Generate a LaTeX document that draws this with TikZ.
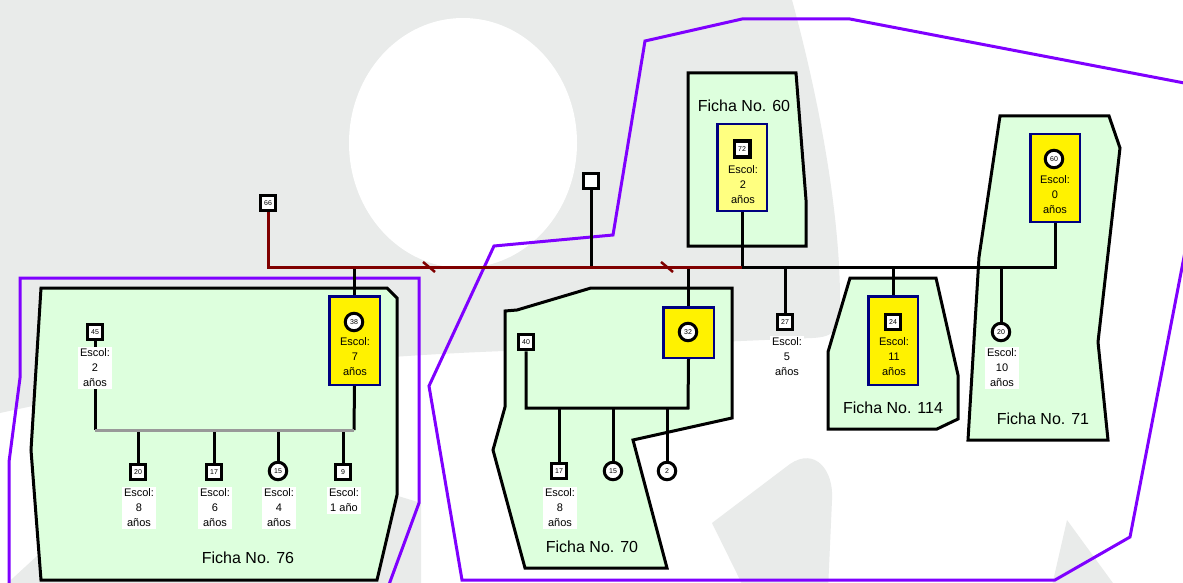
\documentclass[tikz,border=0pt]{standalone}
\usepackage{fontspec}
\setmainfont{Liberation Sans}
\usepackage{tikz}

\definecolor{fondo}{HTML}{E9EBEA}
\definecolor{verdeficha}{HTML}{DDFFDD}
\definecolor{morado}{HTML}{7F00FF}
\definecolor{vinotinto}{HTML}{800000}
\definecolor{marino}{HTML}{000080}
\definecolor{amarillopal}{HTML}{FFFF80}
\definecolor{grishijos}{HTML}{999999}

\tikzset{
    ficha/.style={draw=black, fill=verdeficha, line width=3pt},
    hogar/.style={draw=morado, line width=3pt},
    hombre/.style={draw, rectangle, line width=3pt, fill=white, minimum size=15.5pt, inner sep=0pt, font=\fontsize{7}{8}\selectfont},
    mujer/.style={draw, circle, line width=3pt, fill=white, minimum size=17.5pt, inner sep=0pt, font=\fontsize{7}{8}\selectfont},
    caja/.style={draw=marino, line width=2.5pt, fill=yellow, inner sep=0pt},
    escol/.style={align=center, font=\fontsize{11}{15}\selectfont, inner sep=2pt},
    escolb/.style={escol, fill=white},
    titulo/.style={font=\fontsize{16}{18}\selectfont},
    enlace/.style={line width=3pt},
    union/.style={draw=vinotinto, line width=3pt},
    hijos/.style={draw=grishijos, line width=3pt}
}

\begin{document}
\begin{tikzpicture}[x=1pt, y=-1pt]
    \useasboundingbox (0,0) rectangle (1183,583);
    \clip (0,0) rectangle (1183,583);
    % fondo
    \fill[white] (0,0) rectangle (1183,583);
    \fill[fondo] (0,0) -- (792,0) .. controls (822,110) and (840,220) .. (840,300) .. controls (840,330) and (835,337) .. (812,338) -- (480,352) .. controls (300,360) and (150,380) .. (0,413) -- cycle;
    \fill[white] (463,143) ellipse [x radius=114, y radius=125];
    \fill[fondo] (0,590) -- (37,556) .. controls (120,515) and (250,497) .. (398,496) -- (421,503) -- (421,590) -- cycle;
    \fill[fondo] (745,590) -- (712,523) -- (790,464) .. controls (815,447) and (834,470) .. (832,500) -- (828,590) -- cycle;
    \fill[fondo] (1051,590) -- (1067,520) -- (1118,590) -- cycle;
    %
    \draw[hogar] (387,590) -- (419,503) -- (419,278) -- (20,278) -- (20,378) -- (9,462) -- (9,590);
    \draw[hogar] (1200,86) -- (850,19) -- (742,19) -- (645,41) -- (613,235) -- (494,246) -- (429,386) -- (462,580) -- (1055,580) -- (1130,537) -- (1195,200) -- cycle;
    %
    \filldraw[ficha] (41,288) -- (387,288) -- (397,298) -- (397,495) -- (377,580) -- (41,580) -- (31,450) -- cycle;
    \filldraw[ficha] (505,311) -- (517,310) -- (591,288) -- (732,288) -- (732,418) -- (633,440) -- (667,568) -- (525,568) -- (493,450) -- (505,407) -- cycle;
    \filldraw[ficha] (688,73) -- (796,73) -- (806,200) -- (806,246) -- (688,246) -- cycle;
    \filldraw[ficha] (850,278) -- (936,278) -- (958,375) -- (958,419) -- (937,429) -- (828,429) -- (828,352) -- cycle;
    \filldraw[ficha] (1000,116) -- (1109,116) -- (1120,148) -- (1098,342) -- (1108,440) -- (968,440) -- (979,257) -- cycle;
    \node[titulo] (f76) at (248,558) {Ficha No. 76};
    \node[titulo] (f70) at (592,547) {Ficha No. 70};
    \node[titulo] (f60) at (744,106) {Ficha No. 60};
    \node[titulo] (f114) at (893,408) {Ficha No. 114};
    \node[titulo] (f71) at (1043,419) {Ficha No. 71};
    %
    \node[hombre] (p66) at (268,203) {66};
    \node[hombre] (pq) at (591,181) {};
    \node[caja, minimum width=50.5pt, minimum height=88.5pt] (y38) at (354.5,340.5) {};
    \node[mujer] (c38) at (354,322) {38};
    \node[escol] (e38) at (355,357) {Escol:\\7\\años};
    \node[caja, fill=amarillopal, minimum width=49.5pt, minimum height=86.5pt] (y72) at (742,167.5) {};
    \node[hombre, line width=3.5pt] (p72) at (742,149) {72};
    \node[escol] (e72) at (743,185) {Escol:\\2\\años};
    \node[caja, minimum width=49.5pt, minimum height=87.5pt] (y60) at (1055,178) {};
    \node[mujer] (c60) at (1054,159) {60};
    \node[escol] (e60) at (1055,195) {Escol:\\0\\años};
    \node[caja, minimum width=50.5pt, minimum height=50.5pt] (y32) at (688.5,332.5) {};
    \node[mujer] (c32) at (688,332) {32};
    \node[caja, minimum width=49.5pt, minimum height=88.5pt] (y24) at (893,340.5) {};
    \node[hombre] (p24) at (893,322) {24};
    \node[escol] (e24) at (894,357) {Escol:\\11\\años};
    \node[hombre] (p27) at (785,322) {27};
    \node[mujer] (c20) at (1001,332) {20};
    \node[hombre] (p45) at (95,332) {45};
    \node[hombre] (p40) at (526,342) {40};
    %
    \node[hombre] (p20) at (138,472) {20};
    \node[hombre] (p17) at (214,472) {17};
    \node[mujer] (c15) at (278,471) {15};
    \node[hombre] (p9) at (343,472) {9};
    \node[hombre] (p17b) at (559,471) {17};
    \node[mujer] (c15b) at (613,471) {15};
    \node[mujer] (c2) at (667,471) {2};
    %
    \coordinate (m60) at (742,267);
    \coordinate (d1) at (429,267);
    \coordinate (d2) at (667,267);
    \coordinate (h76a) at (95,430);
    \coordinate (h76b) at (354,430);
    \coordinate (h70a) at (526,408);
    \coordinate (h70b) at (688,408);
    %
    \draw[enlace] (y38.north) -- (y38.north |- m60);
    \draw[enlace] (pq.south) -- (pq.south |- m60);
    \draw[enlace] (y32.north) -- (y32.north |- m60);
    \draw[enlace] (p27.north) -- (p27.north |- m60);
    \draw[enlace] (y24.north) -- (y24.north |- m60);
    \draw[enlace] (c20.north) -- (c20.north |- m60);
    \draw[enlace] (y72.south) -- (m60);
    \draw[enlace] (m60) -| (y60.south);
    \draw[union] (p66.south) |- (m60);
    \draw[union, line width=2.5pt] ([shift={(-6,-5)}]d1) -- ([shift={(6,5)}]d1);
    \draw[union, line width=2.5pt] ([shift={(-6,-5)}]d2) -- ([shift={(6,5)}]d2);
    %
    \draw[enlace] (p45.south) -- (h76a);
    \draw[enlace] (y38.south) -- (h76b);
    \draw[enlace] (p20.north) -- (p20.north |- h76a);
    \draw[enlace] (p17.north) -- (p17.north |- h76a);
    \draw[enlace] (c15.north) -- (c15.north |- h76a);
    \draw[enlace] (p9.north) -- (p9.north |- h76a);
    \draw[hijos] (h76a) -- (h76b);
    %
    \draw[enlace] (p40.south) -- (h70a) -- (h70b) -- (y32.south);
    \draw[enlace] (p17b.north) -- (p17b.north |- h70a);
    \draw[enlace] (c15b.north) -- (c15b.north |- h70a);
    \draw[enlace] (c2.north) -- (c2.north |- h70a);
    %
    \node[escolb] (e45) at (95,368) {Escol:\\2\\años};
    \node[escolb] (e27) at (787,357) {Escol:\\5\\años};
    \node[escolb] (e20b) at (1002,368) {Escol:\\10\\años};
    \node[escolb] (e20) at (139,508) {Escol:\\8\\años};
    \node[escolb] (e17) at (215,508) {Escol:\\6\\años};
    \node[escolb] (e15) at (279,508) {Escol:\\4\\años};
    \node[escolb] (e9) at (344,500.5) {Escol:\\1 año};
    \node[escolb] (e17b) at (560,508) {Escol:\\8\\años};
\end{tikzpicture}
\end{document}
